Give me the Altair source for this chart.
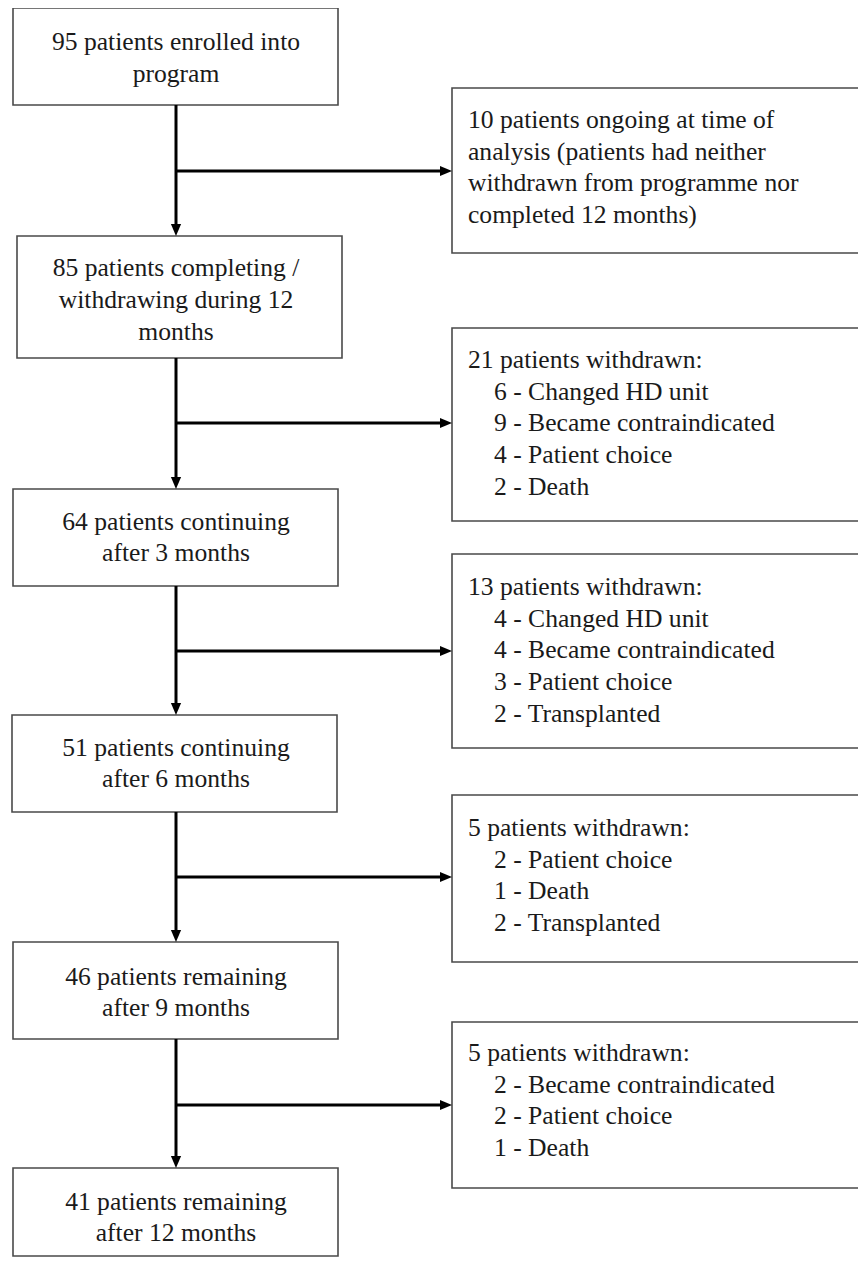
import altair as alt
import pandas as pd

# ---------------- content ----------------
main_labels = [
    ["95 patients enrolled into", "program"],
    ["85 patients completing /", "withdrawing during 12", "months"],
    ["64 patients continuing", "after 3 months"],
    ["51 patients continuing", "after 6 months"],
    ["46 patients remaining", "after 9 months"],
    ["41 patients remaining", "after 12 months"],
]

side_headers = [
    "10 patients ongoing at time of",
    "21 patients withdrawn:",
    "13 patients withdrawn:",
    "5 patients withdrawn:",
    "5 patients withdrawn:",
]
side_plain = [
    ["analysis (patients had neither", "withdrawn from programme nor", "completed 12 months)"],
    [], [], [], [],
]
side_items = [
    [],
    ["6 - Changed HD unit", "9 - Became contraindicated", "4 - Patient choice", "2 - Death"],
    ["4 - Changed HD unit", "4 - Became contraindicated", "3 - Patient choice", "2 - Transplanted"],
    ["2 - Patient choice", "1 - Death", "2 - Transplanted"],
    ["2 - Became contraindicated", "2 - Patient choice", "1 - Death"],
]

# ---------------- layout (page pixels) ----------------
W, H, M = 866, 1265, 8
main_x1 = [13, 17, 13, 12, 13, 13]
main_x2 = [338, 342, 338, 337, 338, 338]
main_top = [8, 236, 489, 715, 942, 1168]
main_bottom = [105, 358, 586, 812, 1039, 1256]
main_line_y = [[42, 74], [268, 300, 332], [522, 553], [748, 779], [977, 1008], [1202, 1233]]

side_x1, side_x2 = 452, 900
side_top = [88, 328, 554, 795, 1022]
side_bottom = [253, 521, 748, 962, 1188]
side_first_y = [120, 360, 587, 828, 1053]
line_step = 31.7
branch_y = [171, 423, 651, 877, 1105]
trunk_x = 176
text_x, indent_x = 468, 494
head = 12

FONT = "Liberation Serif"
FS = 25.6

# ---------------- tables ----------------
boxes = []
for i in range(len(main_top)):
    boxes.append(dict(x=main_x1[i], x2=main_x2[i], y=main_top[i], y2=main_bottom[i]))
for i in range(len(side_top)):
    boxes.append(dict(x=side_x1, x2=side_x2, y=side_top[i], y2=side_bottom[i]))
boxes = pd.DataFrame(boxes)

segs = []
for i in range(len(main_top) - 1):
    segs.append(dict(x=trunk_x, x2=trunk_x, y=main_bottom[i], y2=main_top[i + 1] - head + 2))
for b in branch_y:
    segs.append(dict(x=trunk_x, x2=side_x1 - head + 2, y=b, y2=b))
segs = pd.DataFrame(segs)

down_heads = pd.DataFrame([dict(x=trunk_x, y=main_top[i + 1] - head / 2) for i in range(len(main_top) - 1)])
right_heads = pd.DataFrame([dict(x=side_x1 - head / 2, y=b) for b in branch_y])

center_text = []
for i, lines in enumerate(main_labels):
    for j, t in enumerate(lines):
        center_text.append(dict(x=trunk_x, y=main_line_y[i][j], t=t))
center_text = pd.DataFrame(center_text)

left_text = []
for i in range(len(side_headers)):
    rows = [(text_x, side_headers[i])] + [(text_x, t) for t in side_plain[i]] + [(indent_x, t) for t in side_items[i]]
    for j, (xx, t) in enumerate(rows):
        left_text.append(dict(x=xx, y=side_first_y[i] + j * line_step, t=t))
left_text = pd.DataFrame(left_text)

# ---------------- scales ----------------
xs = alt.Scale(domain=[M, W - M], nice=False, zero=False)
ys = alt.Scale(domain=[M, H - M], nice=False, zero=False, reverse=True)
X = lambda f="x": alt.X(f"{f}:Q", scale=xs, axis=None)
Y = lambda f="y": alt.Y(f"{f}:Q", scale=ys, axis=None)

box_layer = alt.Chart(boxes).mark_rect(fill="white", stroke="#4a4a4a", strokeWidth=1.6).encode(
    x=X(), x2="x2:Q", y=Y(), y2="y2:Q")

seg_layer = alt.Chart(segs).mark_rule(color="black", strokeWidth=3).encode(
    x=X(), x2="x2:Q", y=Y(), y2="y2:Q")

down_layer = alt.Chart(down_heads).mark_point(
    shape="M-0.85,-1L0.85,-1L0,1Z", filled=True, color="black", size=head * head, opacity=1
).encode(x=X(), y=Y())

right_layer = alt.Chart(right_heads).mark_point(
    shape="M-1,-0.85L1,0L-1,0.85Z", filled=True, color="black", size=head * head, opacity=1
).encode(x=X(), y=Y())

ctext = alt.Chart(center_text).mark_text(
    font=FONT, fontSize=FS, color="#1a1a1a", align="center", baseline="middle"
).encode(x=X(), y=Y(), text="t:N")

ltext = alt.Chart(left_text).mark_text(
    font=FONT, fontSize=FS, color="#1a1a1a", align="left", baseline="middle"
).encode(x=X(), y=Y(), text="t:N")

chart = alt.layer(box_layer, seg_layer, down_layer, right_layer, ctext, ltext).properties(
    width=W - 2 * M, height=H - 2 * M, padding=0, autosize=alt.AutoSizeParams(type="none"),
    background="white"
).configure_view(stroke=None)

chart.save("out.html", embed_options={"renderer": "svg", "actions": False})
